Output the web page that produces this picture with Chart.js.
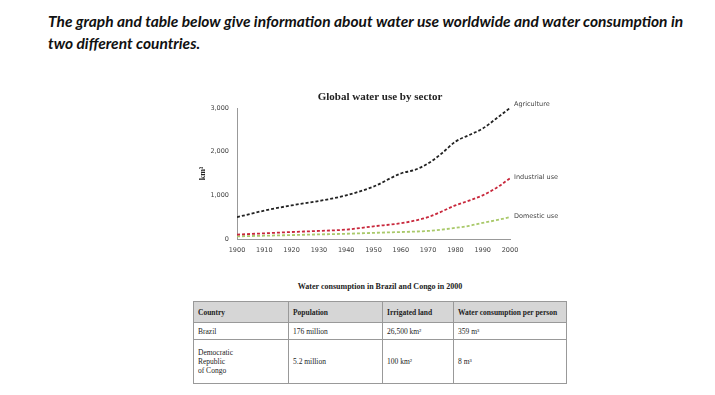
<!DOCTYPE html>
<html lang="en">
<head>
    <meta charset="UTF-8">
    <title>Global water use by sector</title>
    <script src="https://cdn.jsdelivr.net/npm/chart.js"></script>
    <style>
        body { margin: 0; background: #fff; width: 715px; height: 395px; position: relative; overflow: hidden; }
        #intro { position: absolute; left: 48px; top: 10px; width: 655px; font-family: Lato, sans-serif; font-style: italic; font-weight: bold; font-size: 15.5px; line-height: 22px; color: #111; }
        #wrap { position: absolute; left: 160px; top: 85px; width: 440px; height: 180px; }
        #tableTitle { position: absolute; left: 193px; top: 282px; width: 374px; text-align: center; font-family: "Liberation Serif", serif; font-weight: bold; font-size: 8px; color: #222; }
        table { position: absolute; left: 193px; top: 301px; width: 374px; border-collapse: collapse; font-family: "Liberation Serif", serif; font-size: 7.5px; color: #222; }
        td, th { border: 1px solid #999; text-align: left; padding: 2px 4px; vertical-align: middle; }
        th { background: #d6d6d6; height: 16px; font-weight: bold; }
        tr.r1 td { height: 12px; }
        tr.r2 td { height: 39px; }
    </style>
</head>
<body>
    <div id="intro">The graph and table below give information about water use worldwide and water consumption in two different countries.</div>
    <div id="wrap"><canvas id="waterChart" width="440" height="180"></canvas></div>
    <div id="tableTitle">Water consumption in Brazil and Congo in 2000</div>
    <table>
        <tr><th style="width:86px">Country</th><th style="width:85px">Population</th><th style="width:62px">Irrigated land</th><th>Water consumption per person</th></tr>
        <tr class="r1"><td>Brazil</td><td>176 million</td><td>26,500 km²</td><td>359 m³</td></tr>
        <tr class="r2"><td>Democratic<br>Republic<br>of Congo</td><td>5.2 million</td><td>100 km²</td><td>8 m³</td></tr>
    </table>
    <script>
        // values, km³ per year
        const years = [1900, 1910, 1920, 1930, 1940, 1950, 1960, 1965, 1970, 1975, 1980, 1985, 1990, 1995, 2000];
        const agriculture = [500, 650, 770, 870, 1000, 1200, 1500, 1580, 1730, 1960, 2230, 2380, 2530, 2760, 3000];
        const industrial = [100, 130, 160, 185, 215, 290, 360, 420, 500, 630, 770, 880, 1000, 1170, 1390];
        const domestic = [60, 75, 90, 105, 120, 140, 160, 170, 185, 215, 255, 300, 370, 430, 500];
        const seriesNames = ['Agriculture', 'Industrial use', 'Domestic use'];
        const chartTitle = 'Global water use by sector';

        const pts = arr => years.map((y, i) => ({ x: y, y: arr[i] }));

        // title over the whole canvas + series names at the end of each line
        const textBits = {
            id: 'textBits',
            afterDatasetsDraw(chart) {
                const ctx = chart.ctx;
                ctx.save();
                ctx.font = 'bold 11px "Liberation Serif", serif';
                ctx.fillStyle = '#222';
                ctx.textAlign = 'center';
                ctx.textBaseline = 'middle';
                ctx.fillText(chartTitle, chart.width / 2, 12);

                ctx.font = '6.5px "DejaVu Sans", sans-serif';
                ctx.fillStyle = '#444';
                ctx.textAlign = 'left';
                chart.data.datasets.forEach((ds, i) => {
                    const el = chart.getDatasetMeta(i).data[ds.data.length - 1];
                    ctx.fillText(ds.label, el.x + 4, el.y - (i === 0 ? 4 : 1));
                });
                ctx.restore();
            }
        };

        new Chart(document.getElementById('waterChart'), {
            type: 'line',
            data: {
                datasets: [
                    { label: seriesNames[0], data: pts(agriculture), borderColor: '#222', borderDash: [3, 2] },
                    { label: seriesNames[1], data: pts(industrial), borderColor: '#c8283c', borderDash: [3, 2] },
                    { label: seriesNames[2], data: pts(domestic), borderColor: '#a9c96a', borderDash: [3, 2] }
                ]
            },
            options: {
                responsive: false,
                animation: false,
                layout: { padding: { top: 23, right: 90, bottom: 0, left: 36 } },
                elements: {
                    point: { radius: 0 },
                    line: { borderWidth: 1.8, tension: 0.4, cubicInterpolationMode: 'monotone' }
                },
                plugins: {
                    legend: { display: false },
                    tooltip: { enabled: false },
                    title: { display: false }
                },
                scales: {
                    x: {
                        type: 'linear',
                        min: 1900, max: 2000,
                        grid: { display: false, drawTicks: true, tickLength: 4, color: '#999' },
                        border: { color: '#999' },
                        ticks: { stepSize: 10, color: '#444', font: { size: 6.5, family: '"DejaVu Sans", sans-serif' }, padding: 3, callback: v => String(v) },
                        afterFit: s => { s.height = 26; }
                    },
                    y: {
                        min: 0, max: 3000,
                        grid: { display: false, drawTicks: true, tickLength: 4, color: '#999' },
                        border: { color: '#999' },
                        ticks: { stepSize: 1000, color: '#444', font: { size: 6.5, family: '"DejaVu Sans", sans-serif' }, padding: 4 },
                        title: { display: true, text: 'km³', color: '#222', font: { family: '"Liberation Serif", serif', size: 8, weight: 'bold' }, padding: 2 },
                        afterFit: s => { s.width = 41; }
                    }
                }
            },
            plugins: [textBits]
        });
    </script>
</body>
</html>
